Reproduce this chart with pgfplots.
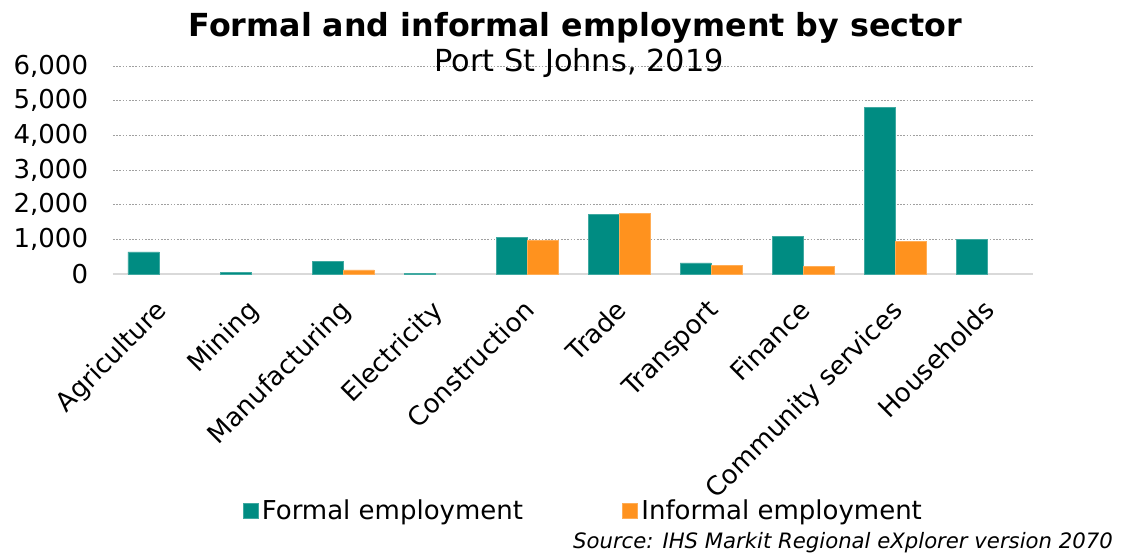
\documentclass[border=0pt]{standalone}
\usepackage{fontspec}
\setmainfont{DejaVu Sans}
\usepackage{graphicx}
\usepackage{pgfplots}
\pgfplotsset{compat=1.18}
\definecolor{teal1}{RGB}{0,140,130}
\definecolor{orng}{RGB}{255,146,30}
\definecolor{axgray}{RGB}{217,217,217}
\definecolor{gridgray}{RGB}{160,160,160}
\begin{document}
\begin{tikzpicture}
\path[use as bounding box] (0,0) rectangle (846pt,417.75pt);
\begin{axis}[
  at={(84.75pt,212.25pt)}, anchor=south west,
  scale only axis, width=690pt, height=156pt,
  xmin=-0.5, xmax=9.5, ymin=0, ymax=6000,
  axis x line*=bottom, axis y line*=left,
  y axis line style={draw=none},
  x axis line style={draw=axgray, line width=1.5pt, -},
  xtick={0,...,9},
  xticklabels={Agriculture,Mining,Manufacturing,Electricity,Construction,Trade,Transport,Finance,Community services,Households},
  x tick label style={rotate=45, anchor=north east, inner sep=2pt, xshift=-13.3pt, yshift=-8pt, font=\fontsize{19.5}{23}\selectfont},
  major x tick style={draw=none},
  extra x ticks={-0.5,0.5,...,9.5},
  extra x tick labels={},
  extra x tick style={major tick length=13.5pt, tick align=center, major tick style={draw=axgray, line width=1.2pt}},
  ytick={0,1000,...,6000},
  y tick label style={font=\fontsize{19.5}{23}\selectfont, inner sep=0pt, xshift=-18.5pt},
  /pgf/number format/assume math mode=true,
  /pgf/number format/1000 sep={,},
  scaled y ticks=false,
  major y tick style={draw=none},
  ymajorgrids,
  grid style={gridgray, line width=0.75pt, dash pattern=on 1.2pt off 1.2pt},
  legend columns=2,
  legend style={draw=none, fill=none, at={(0.512,-1.14)}, anchor=center,
    font=\fontsize{19.5}{23}\selectfont,
    /tikz/every even column/.append style={column sep=72pt},
    nodes={inner sep=2.5pt}},
  legend image code/.code={\fill[#1] (0pt,-5.6pt) rectangle (11.25pt,5.6pt);},
]
\addplot[ybar, bar width=23.25pt, bar shift=-11.625pt, fill=teal1, draw=teal1!75!white, line width=0.5pt]
  coordinates {(0,635) (1,45) (2,360) (3,15) (4,1057) (5,1718) (6,320) (7,1078) (8,4802) (9,1009)};
\addlegendentry{Formal employment}
\addplot[ybar, bar width=23.25pt, bar shift=11.625pt, fill=orng, draw=orng!75!white, line width=0.5pt]
  coordinates {(2,118) (4,962) (5,1747) (6,253) (7,224) (8,934)};
\addlegendentry{Informal employment}
\end{axis}
\node[anchor=base, font=\fontsize{23.8}{28}\selectfont\bfseries] at (431.6pt,390pt) {Formal and informal employment by sector};
\node[anchor=base, font=\fontsize{22.8}{27}\selectfont] at (434.25pt,363.75pt) {Port St Johns, 2019};
\node[anchor=base east, inner sep=0pt, font=\fontsize{15.9}{19}\selectfont\itshape] at (834.75pt,6.75pt) {Source: IHS Markit Regional eXplorer version 2070};
\end{tikzpicture}
\end{document}
